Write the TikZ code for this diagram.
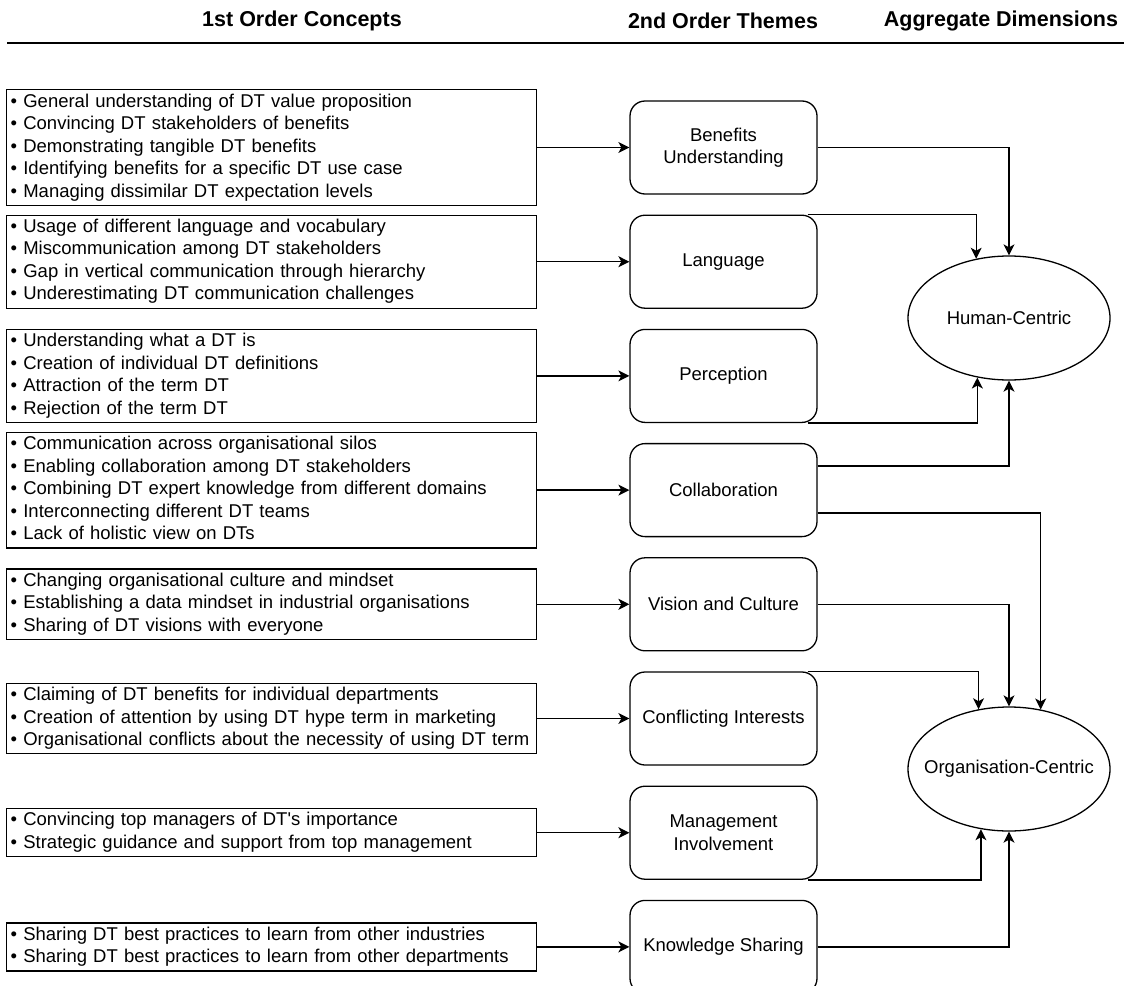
\documentclass[tikz,border=0pt]{standalone}
\usepackage{fontspec}
\setmainfont{Liberation Sans}
\usetikzlibrary{positioning,shapes.geometric,arrows.meta}
\newcommand{\bodysize}{\fontsize{18.5}{22.5}\selectfont}
\newcommand{\li}{\strut\textbullet\ }

\begin{document}
\begin{tikzpicture}[x=1pt, y=1pt, line width=1.3pt,
    >={Stealth[length=11pt,width=11pt,inset=3pt]},
    node distance=19.9pt and 92pt,
    theme/.style={draw, rounded corners=15pt, minimum width=187pt, minimum height=93pt, align=center, font=\bodysize},
    concept/.style={draw, rectangle, align=left, text width=522pt, inner xsep=4pt, inner ysep=1.5pt, font=\bodysize},
    dimension/.style={draw, ellipse, minimum width=202pt, minimum height=124pt, inner sep=0pt, font=\bodysize},
    header/.style={font=\fontsize{21.5}{25}\selectfont\bfseries}]
    \useasboundingbox (0,0) rectangle (1124,-985);

    % headers
    \node[header] (h1) at (302,-21) {1st Order Concepts};
    \node[header] (h2) at (723,-21) {2nd Order Themes};
    \node[header] (h3) at (1001,-21) {Aggregate Dimensions};
    \draw (7,-43) -- (1124,-43);

    % 2nd order themes
    \node[theme] (ben) at (723.5,-147.5) {Benefits\\Understanding};
    \node[theme] (lang) [below=of ben] {Language};
    \node[theme] (perc) [below=of lang] {Perception};
    \node[theme] (collab) [below=of perc] {Collaboration};
    \node[theme] (vis) [below=of collab] {Vision and Culture};
    \node[theme] (confl) [below=of vis] {Conflicting Interests};
    \node[theme] (mgmt) [below=of confl] {Management\\Involvement};
    \node[theme] (know) [below=of mgmt] {Knowledge Sharing};

    % 1st order concepts
    \node[concept] (c1) [left=of ben] {\li General understanding of DT value proposition\\
        \li Convincing DT stakeholders of benefits\\
        \li Demonstrating tangible DT benefits\\
        \li Identifying benefits for a specific DT use case\\
        \li Managing dissimilar DT expectation levels};
    \node[concept] (c2) [left=of lang] {\li Usage of different language and vocabulary\\
        \li Miscommunication among DT stakeholders\\
        \li Gap in vertical communication through hierarchy\\
        \li Underestimating DT communication challenges};
    \node[concept] (c3) [left=of perc] {\li Understanding what a DT is\\
        \li Creation of individual DT definitions\\
        \li Attraction of the term DT\\
        \li Rejection of the term DT};
    \node[concept] (c4) [left=of collab] {\li Communication across organisational silos\\
        \li Enabling collaboration among DT stakeholders\\
        \li Combining DT expert knowledge from different domains\\
        \li Interconnecting different DT teams\\
        \li Lack of holistic view on DTs};
    \node[concept] (c5) [left=of vis] {\li Changing organisational culture and mindset\\
        \li Establishing a data mindset in industrial organisations\\
        \li Sharing of DT visions with everyone};
    \node[concept] (c6) [left=of confl] {\li Claiming of DT benefits for individual departments\\
        \li Creation of attention by using DT hype term in marketing\\
        \li Organisational conflicts about the necessity of using DT term};
    \node[concept] (c7) [left=of mgmt] {\li Convincing top managers of DT\textquotesingle s importance\\
        \li Strategic guidance and support from top management};
    \node[concept] (c8) [left=of know] {\li Sharing DT best practices to learn from other industries\\
        \li Sharing DT best practices to learn from other departments};

    % aggregate dimensions
    \node[dimension] (human) at (1009,-318) {\makebox[0pt]{Human-Centric}};
    \node[dimension] (org) at (1009,-769) {\makebox[0pt]{Organisation-Centric}};

    \foreach \c/\t in {c1/ben, c2/lang, c3/perc, c4/collab, c5/vis, c6/confl, c7/mgmt, c8/know}
        \draw[->] (\c) -- (\t);

    \draw[->] (ben.east) -| (human.north);
    \draw[->] ([xshift=-10pt]lang.north east) -| (human.119);
    \draw[->] ([xshift=-10pt]perc.south east) -| (human.242);
    \draw[->] ([yshift=24pt]collab.east) -| (human.south);
    \draw[->] ([yshift=-23pt]collab.east) -| (org.62);
    \draw[->] (vis.east) -| (org.north);
    \draw[->] ([xshift=-10pt]confl.north east) -| (org.117);
    \draw[->] ([xshift=-10pt]mgmt.south east) -| (org.245);
    \draw[->] (know.east) -| (org.south);
\end{tikzpicture}
\end{document}
